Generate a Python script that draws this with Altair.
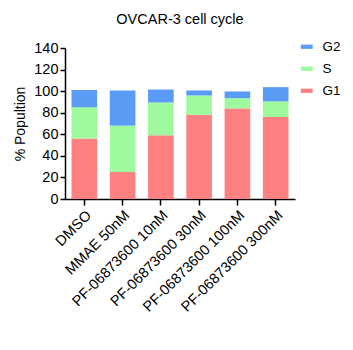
import altair as alt
import pandas as pd

categories = ["DMSO", "MMAE 50nM", "PF-06873600 10nM", "PF-06873600 30nM",
              "PF-06873600 100nM", "PF-06873600 300nM"]
g1 = [56, 25, 59, 78, 84, 76]
s = [29, 43, 30.5, 18, 9.5, 14.5]
g2 = [16, 32.6, 12, 4.6, 6.2, 13.2]

phases = ["G2", "S", "G1"]
colors = ["#5A9BF6", "#9EFA9D", "#FF8080"]
order_map = {"G1": 0, "S": 1, "G2": 2}

rows = []
for i, c in enumerate(categories):
    for ph, vals in (("G1", g1), ("S", s), ("G2", g2)):
        rows.append({"cat": c, "phase": ph, "value": vals[i], "ord": order_map[ph]})
df = pd.DataFrame(rows)

FONT = "Liberation Sans"

chart = alt.Chart(df).mark_bar().encode(
    x=alt.X("cat:N", sort=categories, title=None,
            scale=alt.Scale(paddingInner=0.33, paddingOuter=0.17),
            axis=alt.Axis(labelAngle=-45, labelFontSize=14.5, labelFont=FONT,
                          labelColor="#000", domainColor="#000", tickColor="#000",
                          tickSize=6, labelPadding=3)),
    y=alt.Y("value:Q", stack="zero", title="% Popultion",
            scale=alt.Scale(domain=[0, 140], nice=False),
            axis=alt.Axis(values=[0, 20, 40, 60, 80, 100, 120, 140], grid=False,
                          labelFontSize=14.5, labelFont=FONT, labelColor="#000",
                          domainColor="#000", tickColor="#000", tickSize=5,
                          titleFont=FONT, titleFontSize=14, titleFontWeight="normal",
                          titleColor="#000", titlePadding=6, labelPadding=2)),
    color=alt.Color("phase:N", scale=alt.Scale(domain=phases, range=colors),
                    legend=alt.Legend(title=None, orient="none", legendX=235, legendY=-8,
                                      labelFont=FONT, labelFontSize=13.5, labelColor="#000",
                                      symbolType="M-1,-0.36H1V0.36H-1Z", symbolSize=140,
                                      symbolStrokeWidth=0, symbolOpacity=1,
                                      rowPadding=7, labelOffset=9)),
    order=alt.Order("ord:Q", sort="ascending"),
).properties(
    width=230, height=151,
    title=alt.TitleParams("OVCAR-3 cell cycle", font=FONT, fontSize=14.5,
                          fontWeight="normal", color="#000", offset=13),
    autosize=alt.AutoSizeParams(type="none"),
    padding={"left": 65, "top": 48, "right": 58, "bottom": 151},
).configure_view(stroke=None).configure_axis(domainWidth=1.5, tickWidth=1.5)

chart.save("out.html", embed_options={"renderer": "svg", "actions": False})
